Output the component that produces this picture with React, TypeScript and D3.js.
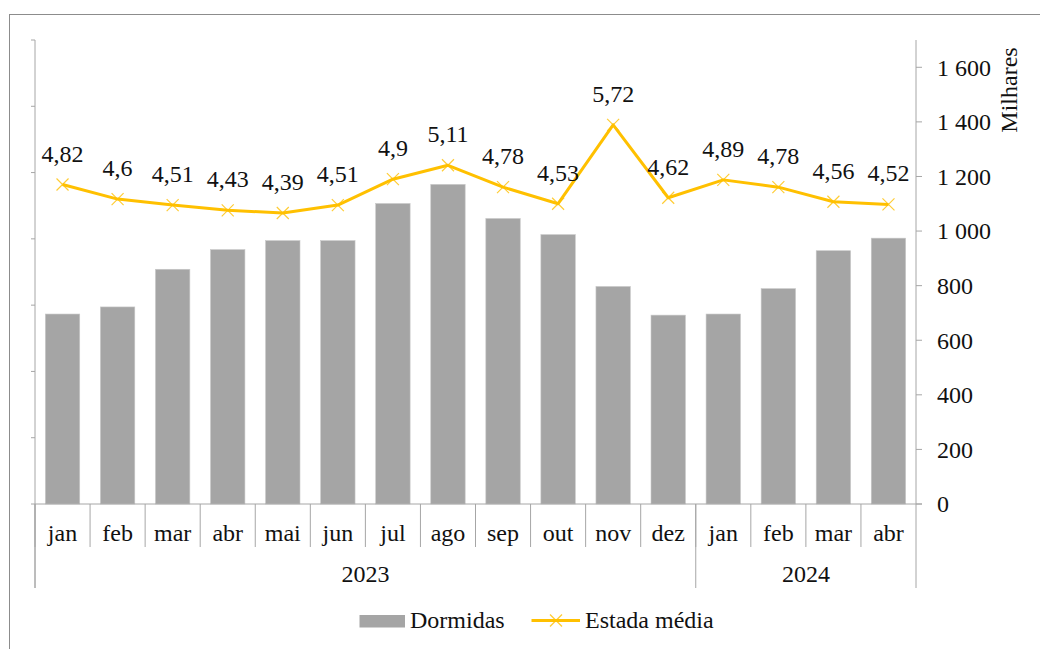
import React from "react";
import * as d3 from "d3";

const months = ["jan", "feb", "mar", "abr", "mai", "jun", "jul", "ago", "sep", "out", "nov", "dez", "jan", "feb", "mar", "abr"];
const years = ["2023", "2024"];
const yearSpans = [12, 4];
const dormidas = [696, 722, 860, 932, 965, 965, 1101, 1171, 1046, 987, 797, 692, 696, 789, 928, 974];
const estada = [4.82, 4.6, 4.51, 4.43, 4.39, 4.51, 4.9, 5.11, 4.78, 4.53, 5.72, 4.62, 4.89, 4.78, 4.56, 4.52];
const rightTicks = [0, 200, 400, 600, 800, 1000, 1200, 1400, 1600];
const leftTicks = [0, 1, 2, 3, 4, 5, 6, 7];

const W = 1040;
const H = 649;
const AXIS = "#a6a6a6";
const BAR = "#a5a5a5";
const LINE = "#ffc000";
const T = (props: any) => (
  <text fontFamily="Liberation Serif" fontSize={24} fill="#111" {...props} />
);

export default function App() {
  const x0 = 35;
  const x1 = 916;
  const yTop = 40;
  const yBase = 504;
  const idx = months.map((_, i) => i);
  const x = d3.scaleBand<number>().domain(idx).range([x0, x1]).paddingInner(0).paddingOuter(0);
  const bw = x.bandwidth();
  const barW = bw * 0.625;
  const yR = d3.scaleLinear().domain([0, 1700]).range([yBase, yTop]);
  const yL = d3.scaleLinear().domain([0, 7]).range([yBase, yTop]);
  const cx = (i: number) => (x(i) as number) + bw / 2;
  const line = d3.line<number>().x((_, i) => cx(i)).y((d) => yL(d));

  const fmt = (v: number) => String(v).replace(".", ",");
  const fmtR = (v: number) => (v >= 1000 ? `${Math.floor(v / 1000)} ${String(v % 1000).padStart(3, "0")}` : String(v));

  const cross = (px: number, py: number, s: number, key?: any) => (
    <g key={key} stroke={LINE} strokeWidth={1.2} opacity={0.8}>
      <line x1={px - s} y1={py - s} x2={px + s} y2={py + s} />
      <line x1={px - s} y1={py + s} x2={px + s} y2={py - s} />
    </g>
  );

  let acc = 0;
  const yearBounds = yearSpans.map((n) => {
    const s = acc;
    acc += n;
    return [s, acc];
  });

  return (
    <svg width={W} height={H} style={{ position: "absolute", left: 0, top: 0 }}>
      <rect x={0} y={0} width={W} height={H} fill="#fff" />
      <rect x={9.5} y={14.5} width={W + 20} height={H + 20} fill="#fff" stroke="#8c8c8c" strokeWidth={1} />

      {dormidas.map((v, i) => (
        <rect key={i} x={cx(i) - barW / 2} y={yR(v)} width={barW} height={yBase - yR(v)} fill={BAR} stroke="#c8c8c8" strokeWidth={0.6} />
      ))}

      <line x1={x0} y1={yTop} x2={x0} y2={588} stroke={AXIS} />
      {leftTicks.map((t) => (
        <line key={t} x1={x0 - 4} y1={yL(t)} x2={x0} y2={yL(t)} stroke={AXIS} />
      ))}

      <line x1={x1} y1={yTop} x2={x1} y2={588} stroke={AXIS} />
      {rightTicks.map((t) => (
        <g key={t}>
          <line x1={x1} y1={yR(t)} x2={x1 + 6} y2={yR(t)} stroke={AXIS} />
          <T x={937} y={yR(t)} dy="0.35em">
            {fmtR(t)}
          </T>
        </g>
      ))}
      <T transform={`translate(1017,90) rotate(-90)`} textAnchor="middle">
        Milhares
      </T>

      <line x1={x0} y1={yBase} x2={x1 + 6} y2={yBase} stroke={AXIS} />
      {idx.map((i) => (
        <line key={i} x1={x(i) as number} y1={yBase} x2={x(i) as number} y2={547} stroke={AXIS} />
      ))}
      {yearBounds.map(([s], k) => (
        <line key={k} x1={x(s) as number} y1={yBase} x2={x(s) as number} y2={588} stroke={AXIS} />
      ))}
      {months.map((m, i) => (
        <T key={i} x={cx(i)} y={541} textAnchor="middle">
          {m}
        </T>
      ))}
      {yearBounds.map(([s, e], k) => (
        <T key={k} x={((x(s) as number) + (e >= months.length ? x1 : (x(e) as number))) / 2} y={582} textAnchor="middle">
          {years[k]}
        </T>
      ))}

      <path d={line(estada) || ""} fill="none" stroke={LINE} strokeWidth={3} strokeLinejoin="round" />
      {estada.map((v, i) => cross(cx(i), yL(v), 6, i))}
      {estada.map((v, i) => (
        <T key={i} x={cx(i)} y={yL(v) - 23} textAnchor="middle">
          {fmt(v)}
        </T>
      ))}

      <rect x={359.5} y={615} width={45.5} height={12.5} fill={BAR} />
      <T x={410} y={628}>
        Dormidas
      </T>
      <line x1={531.5} y1={620.5} x2={580} y2={620.5} stroke={LINE} strokeWidth={3} />
      {cross(556, 620.5, 6)}
      <T x={585} y={628}>
        Estada média
      </T>
    </svg>
  );
}
